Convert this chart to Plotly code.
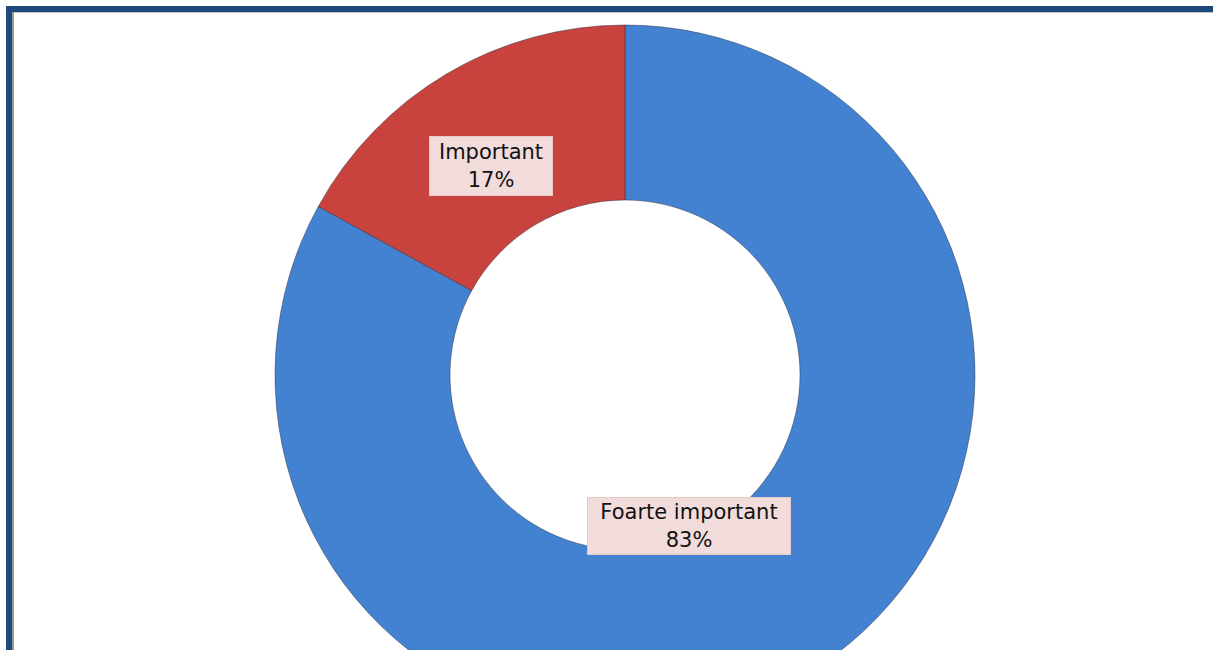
import plotly.graph_objects as go

labels = ["Foarte important", "Important"]
values = [83, 17]
colors = ["#4382d0", "#c9433e"]

W, H = 1213, 725
L, T = 37, 25

fig = go.Figure(
    go.Pie(
        labels=labels,
        values=values,
        hole=0.5,
        sort=False,
        direction="clockwise",
        rotation=0,
        marker={"colors": colors, "line": {"color": "rgba(40,40,60,0.45)", "width": 1}},
        textinfo="none",
        hoverinfo="label+percent",
        showlegend=False,
    )
)


def px_x(px):
    return (px - L) / (W - L)


def px_y(py):
    return 1 - (py - T) / (H - T)


# label box centre (px) and box size (px)
label_boxes = [((689, 555), (200, 54)), ((491, 136), (120, 56))]
for lab, val, ((x, y), (bw, bh)) in zip(labels, values, label_boxes):
    fig.add_annotation(
        x=px_x(x), y=px_y(y), xref="paper", yref="paper",
        text=f"{lab}<br>{val}%", showarrow=False,
        font={"family": "DejaVu Sans", "size": 21, "color": "#111111"},
        bgcolor="#f2dcdb", bordercolor="#e6c8c6", borderwidth=1, borderpad=1,
        width=bw, height=bh, align="center", valign="middle",
    )

# frame: navy band on the top and left, thin grey line inside it
frame = [
    (6, 1213, 6, 12, "#1f497d"),
    (6, 12, 6, 725, "#1f497d"),
    (12, 1213, 12, 13, "#c8c8bc"),
    (12, 14, 12, 725, "#9a9a9a"),
]
for x0, x1, y0, y1, c in frame:
    fig.add_shape(
        type="rect", xref="paper", yref="paper",
        xsizemode="pixel", ysizemode="pixel", xanchor=0, yanchor=1,
        x0=x0 - L, x1=x1 - L, y0=T - y1, y1=T - y0,
        fillcolor=c, line={"width": 0}, layer="above",
    )

fig.update_layout(
    width=W,
    height=H,
    margin={"l": L, "r": 0, "t": T, "b": 0},
    paper_bgcolor="white",
    plot_bgcolor="white",
)

fig.write_html(
    "out.html",
    config={"displayModeBar": False},
    post_script="document.body.style.margin='0';document.body.style.overflow='hidden';"
    "document.documentElement.style.overflow='hidden';",
)
